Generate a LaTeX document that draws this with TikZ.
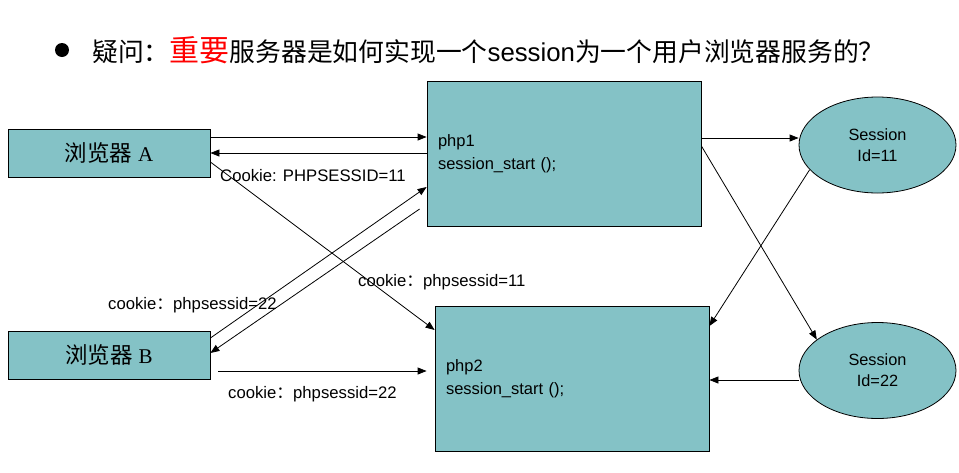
\documentclass[tikz,border=0pt]{standalone}
\usepackage{fontspec}
\setmainfont{Liberation Sans}
\newfontfamily\cjk{Noto Sans CJK SC}
\newfontfamily\serifA{Liberation Serif}
\usetikzlibrary{arrows.meta,shapes.geometric,calc}
\definecolor{boxteal}{RGB}{132,194,198}
\tikzset{
  boxnode/.style={draw=black,line width=0.8pt,fill=boxteal,inner sep=0pt},
  phpbox/.style={boxnode,minimum width=274pt,minimum height=145pt,text width=252pt,inner xsep=11pt,align=left,font=\fontsize{16.5}{23}\selectfont},
  browser/.style={boxnode,minimum width=202pt,minimum height=48pt},
  sessnode/.style={ellipse,draw=black,line width=0.8pt,fill=boxteal,inner sep=0pt,minimum width=157pt,minimum height=96pt,align=center,font=\fontsize{16.3}{21}\selectfont},
  conn/.style={line width=0.8pt,-{Triangle[length=9pt,width=7pt]}},
  lbl/.style={inner sep=0pt,font=\fontsize{16.7}{18}\selectfont}
}
\begin{document}
\begin{tikzpicture}[x=1pt,y=-1pt]
\useasboundingbox (0,0) rectangle (959,472);
% title
\fill[black] (62,50) circle (7);
\node[anchor=west,inner sep=0pt] (title) at (92,50) {\fontsize{25.8}{26}\selectfont\cjk 疑问：{\color{red}\fontsize{30}{30}\selectfont 重要}服务器是如何实现一个{\rmfamily session}为一个用户浏览器服务的？};
% nodes
\node[browser] (A) at (109,153) {{\fontsize{22.5}{22}\selectfont\cjk 浏览器}\hspace{6pt}{\fontsize{21}{21}\selectfont\serifA A}};
\node[browser] (B) at (109,355) {{\fontsize{22.5}{22}\selectfont\cjk 浏览器}\hspace{6pt}{\fontsize{21}{21}\selectfont\serifA B}};
\node[phpbox] (php1) at (564,153.5) {php1\\session\_start ();};
\node[phpbox] (php2) at (572,379) {php2\\session\_start ();};
\node[sessnode] (S1) at (877.5,145) {Session\\Id=11};
\node[sessnode] (S2) at (877.5,370.5) {Session\\Id=22};
% labels
\node[lbl,anchor=west] (l1) at (220,176) {Cookie: PHPSESSID=11};
\node[lbl,anchor=west] (l2) at (108,305) {cookie{\cjk ：}phpsessid=22};
\node[lbl,anchor=west] (l3) at (358,282) {cookie{\cjk ：}phpsessid=11};
\node[lbl,anchor=west] (l4) at (228,394) {cookie{\cjk ：}phpsessid=22};
% connectors
\draw[conn] (A.east |- 0,137) -- (php1.west |- 0,137);
\draw[conn] (php1.west |- 0,153) -- (A.east |- 0,153);
\draw[conn] (A.east |- 0,162) -- (php2.west |- 0,330);
\draw[conn] (B.east |- 0,338) -- (php1.west |- 0,187);
\draw[conn] ($(php1.west |- 0,209)+(-7,0)$) -- (B.east |- 0,353);
\draw[conn] ($(B.east |- 0,371)+(8,0)$) -- ($(php2.west |- 0,371)+(-8,0)$);
\draw[conn] (php1.east |- 0,138) -- (S1.west |- 0,138);
\draw[conn] (php1.east |- 0,146) -- (S2.153);
\draw[conn] (S1.200) -- (php2.east |- 0,326);
\draw[conn] (S2.west |- 0,380) -- (php2.east |- 0,380);
\end{tikzpicture}
\end{document}
